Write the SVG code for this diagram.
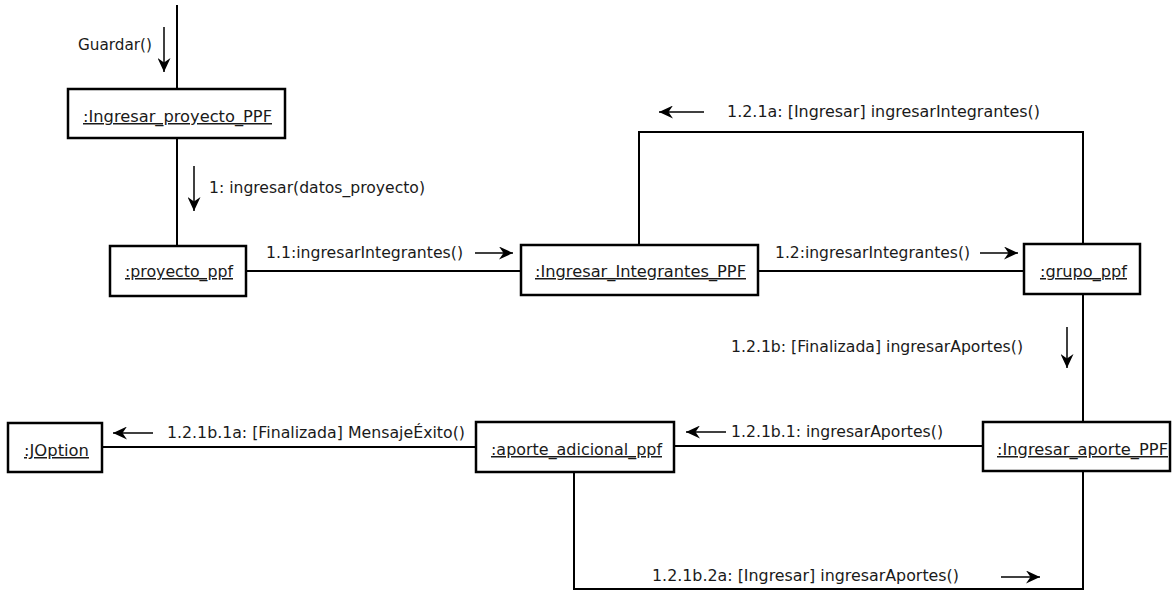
<svg xmlns="http://www.w3.org/2000/svg" width="1174" height="594" viewBox="0 0 1174 594">
<defs>
<style>
.box{fill:#fff;stroke:#000;stroke-width:2.5}
.conn{fill:none;stroke:#000;stroke-width:2}
.msg{fill:none;stroke:#000;stroke-width:1.5;marker-end:url(#ah)}
.lbl{font-family:"DejaVu Sans",Verdana,sans-serif;font-size:15px;fill:#1a1a1a}
.name{font-family:"DejaVu Sans",Verdana,sans-serif;font-size:15px;fill:#1a1a1a;text-decoration:underline;text-anchor:middle}
</style>
<marker id="ah" markerUnits="userSpaceOnUse" markerWidth="15" markerHeight="13" refX="14" refY="6.5" orient="auto">
<path d="M0,0 L14,6.5 L0,13 L4.5,6.5 z" fill="#000"/>
</marker>
</defs>
<rect width="1174" height="594" fill="#fff"/>
<g id="connectors">
<line class="conn" x1="177" y1="5" x2="177" y2="89"/>
<line class="conn" x1="177" y1="138" x2="177" y2="246"/>
<line class="conn" x1="246" y1="271" x2="521" y2="271"/>
<line class="conn" x1="758" y1="271" x2="1024" y2="271"/>
<polyline class="conn" points="639,245 639,132 1083,132 1083,244"/>
<line class="conn" x1="1083" y1="294" x2="1083" y2="422"/>
<line class="conn" x1="674" y1="446" x2="983" y2="446"/>
<line class="conn" x1="102" y1="447" x2="476" y2="447"/>
<polyline class="conn" points="574,472 574,589 1083,589 1083,471"/>
<line class="msg" x1="164" y1="27" x2="164" y2="72"/>
<line class="msg" x1="194" y1="166" x2="194" y2="211"/>
<line class="msg" x1="475" y1="253" x2="513" y2="253"/>
<line class="msg" x1="980" y1="253" x2="1018" y2="253"/>
<line class="msg" x1="704" y1="112" x2="659" y2="112"/>
<line class="msg" x1="1067" y1="327" x2="1067" y2="368"/>
<line class="msg" x1="153" y1="433" x2="113" y2="433"/>
<line class="msg" x1="726" y1="432" x2="686" y2="432"/>
<line class="msg" x1="1001" y1="577" x2="1040" y2="577"/>
<text class="lbl" x="78" y="50" textLength="74" lengthAdjust="spacingAndGlyphs">Guardar()</text>
<text class="lbl" x="209" y="193" textLength="216" lengthAdjust="spacingAndGlyphs">1: ingresar(datos_proyecto)</text>
<text class="lbl" x="266" y="258" textLength="197" lengthAdjust="spacingAndGlyphs">1.1:ingresarIntegrantes()</text>
<text class="lbl" x="775" y="258" textLength="195" lengthAdjust="spacingAndGlyphs">1.2:ingresarIntegrantes()</text>
<text class="lbl" x="727" y="117" textLength="313" lengthAdjust="spacingAndGlyphs">1.2.1a: [Ingresar] ingresarIntegrantes()</text>
<text class="lbl" x="731" y="352" textLength="292" lengthAdjust="spacingAndGlyphs">1.2.1b: [Finalizada] ingresarAportes()</text>
<text class="lbl" x="167" y="438" textLength="298" lengthAdjust="spacingAndGlyphs">1.2.1b.1a: [Finalizada] MensajeÉxito()</text>
<text class="lbl" x="731" y="437" textLength="212" lengthAdjust="spacingAndGlyphs">1.2.1b.1: ingresarAportes()</text>
<text class="lbl" x="652" y="581" textLength="307" lengthAdjust="spacingAndGlyphs">1.2.1b.2a: [Ingresar] ingresarAportes()</text>
</g>
<g id="n_ingresar_proyecto">
<rect class="box" x="68" y="89" width="217" height="49"/>
<text class="name" x="177.5" y="122" textLength="189" lengthAdjust="spacingAndGlyphs">:Ingresar_proyecto_PPF</text>
</g>
<g id="n_proyecto_ppf">
<rect class="box" x="110" y="246" width="136" height="50"/>
<text class="name" x="179" y="277" textLength="108" lengthAdjust="spacingAndGlyphs">:proyecto_ppf</text>
</g>
<g id="n_ingresar_integrantes">
<rect class="box" x="521" y="245" width="237" height="50"/>
<text class="name" x="640.5" y="277" textLength="211" lengthAdjust="spacingAndGlyphs">:Ingresar_Integrantes_PPF</text>
</g>
<g id="n_grupo_ppf">
<rect class="box" x="1024" y="244" width="116" height="50"/>
<text class="name" x="1083.5" y="277" textLength="87" lengthAdjust="spacingAndGlyphs">:grupo_ppf</text>
</g>
<g id="n_joption">
<rect class="box" x="8" y="423" width="94" height="49"/>
<text class="name" x="56.5" y="456" textLength="65" lengthAdjust="spacingAndGlyphs">:JOption</text>
</g>
<g id="n_aporte_adicional">
<rect class="box" x="476" y="422" width="198" height="50"/>
<text class="name" x="576.5" y="455" textLength="171" lengthAdjust="spacingAndGlyphs">:aporte_adicional_ppf</text>
</g>
<g id="n_ingresar_aporte">
<rect class="box" x="983" y="422" width="187" height="49"/>
<text class="name" x="1082.5" y="455" textLength="171" lengthAdjust="spacingAndGlyphs">:Ingresar_aporte_PPF</text>
</g>
</svg>
